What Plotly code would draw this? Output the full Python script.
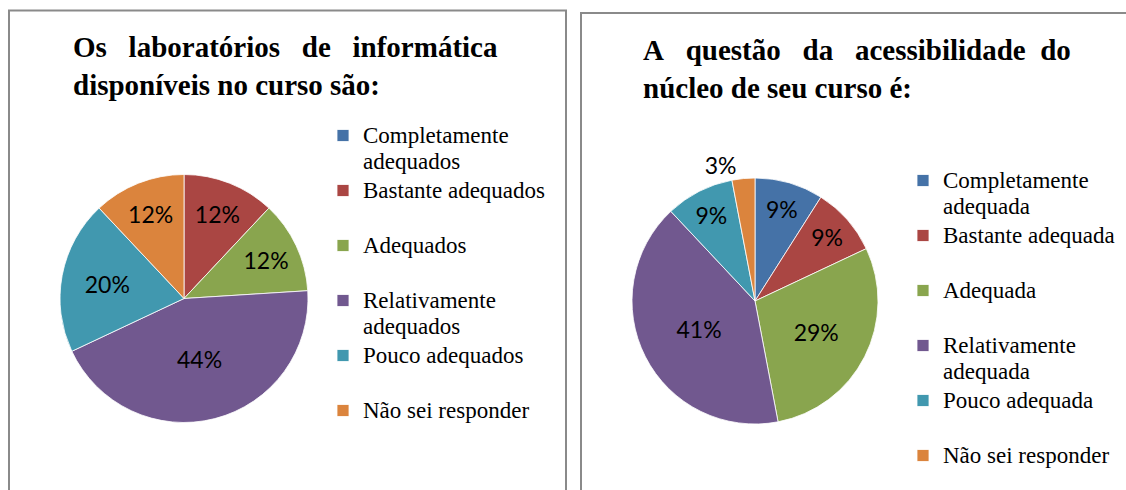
import plotly.graph_objects as go

W, H = 1126, 490

# ---------------- data ----------------
title_left = "Os\u00a0\u00a0 laboratórios\u00a0\u00a0 de\u00a0\u00a0 informática<br>disponíveis no curso são:"
title_right = "A\u00a0\u00a0 questão\u00a0\u00a0 da\u00a0\u00a0 acessibilidade\u00a0 do<br>núcleo de seu curso é:"

labels_left = ["Completamente<br>adequados", "Bastante adequados", "Adequados",
               "Relativamente<br>adequados", "Pouco adequados", "Não sei responder"]
values_left = [0, 12, 12, 44, 20, 12]

labels_right = ["Completamente<br>adequada", "Bastante adequada", "Adequada",
                "Relativamente<br>adequada", "Pouco adequada", "Não sei responder"]
values_right = [9, 9, 29, 41, 9, 3]

colors = ["#4572A7", "#AA4643", "#89A54E", "#71588F", "#4198AF", "#DB843D"]


def legend_labels(lbls):
    out = []
    for i, lbl in enumerate(lbls):
        if "<br>" not in lbl and i < len(lbls) - 1:
            lbl = lbl + "<br>\u00a0"
        out.append('<span style="font-size:23px">' + lbl + "</span>")
    return out


def px_x(p):
    return p / W


def px_y(p):
    return 1 - p / H


fig = go.Figure()

for labels, values, cx, cy, r, leg, grp in [
    (labels_left, values_left, 184, 298.5, 124, "legend", "left"),
    (labels_right, values_right, 755, 301, 123, "legend2", "right"),
]:
    fig.add_trace(go.Pie(
        labels=legend_labels(labels),
        values=values,
        sort=False,
        direction="clockwise",
        rotation=0,
        marker=dict(colors=colors, line=dict(color="white", width=0.8)),
        texttemplate=["" if v == 0 else "%{percent:.0%}" for v in values],
        textinfo="none",
        textposition="auto",
        insidetextorientation="horizontal",
        textfont=dict(family="Lato", size=23, color="black"),
        hoverinfo="label+percent",
        domain=dict(x=[px_x(cx - r), px_x(cx + r)], y=[px_y(cy + r), px_y(cy - r)]),
        legend=leg,
        legendgroup=grp,
        showlegend=True,
    ))

legend_common = dict(
    xanchor="left", yanchor="top",
    font=dict(family="Liberation Serif", size=20, color="black"),
    valign="top", bgcolor="rgba(0,0,0,0)", borderwidth=0,
    traceorder="normal",
)

fig.update_layout(
    width=W, height=H,
    margin=dict(l=0, r=0, t=0, b=0),
    paper_bgcolor="white",
    plot_bgcolor="white",
    legend=dict(x=px_x(323), y=px_y(116), **legend_common),
    legend2=dict(x=px_x(903), y=px_y(161), **legend_common),
    shapes=[
        dict(type="rect", xref="paper", yref="paper",
             x0=px_x(9), x1=px_x(566), y0=-0.2, y1=px_y(10.5),
             line=dict(color="#8a8a8a", width=2)),
        dict(type="rect", xref="paper", yref="paper",
             x0=px_x(581), x1=1.2, y0=-0.2, y1=px_y(13),
             line=dict(color="#8a8a8a", width=2)),
    ],
    annotations=[
        dict(text=title_left, xref="paper", yref="paper", x=px_x(71), y=px_y(66.5),
             xanchor="left", yanchor="middle", align="left", showarrow=False,
             font=dict(family="Liberation Serif", size=29, color="black", weight="bold")),
        dict(text=title_right, xref="paper", yref="paper", x=px_x(641), y=px_y(68.5),
             xanchor="left", yanchor="middle", align="left", showarrow=False,
             font=dict(family="Liberation Serif", size=29, color="black", weight="bold")),
    ],
)

fig.write_html("out.html", config={"displayModeBar": False},
               post_script="document.body.style.margin='0';")
